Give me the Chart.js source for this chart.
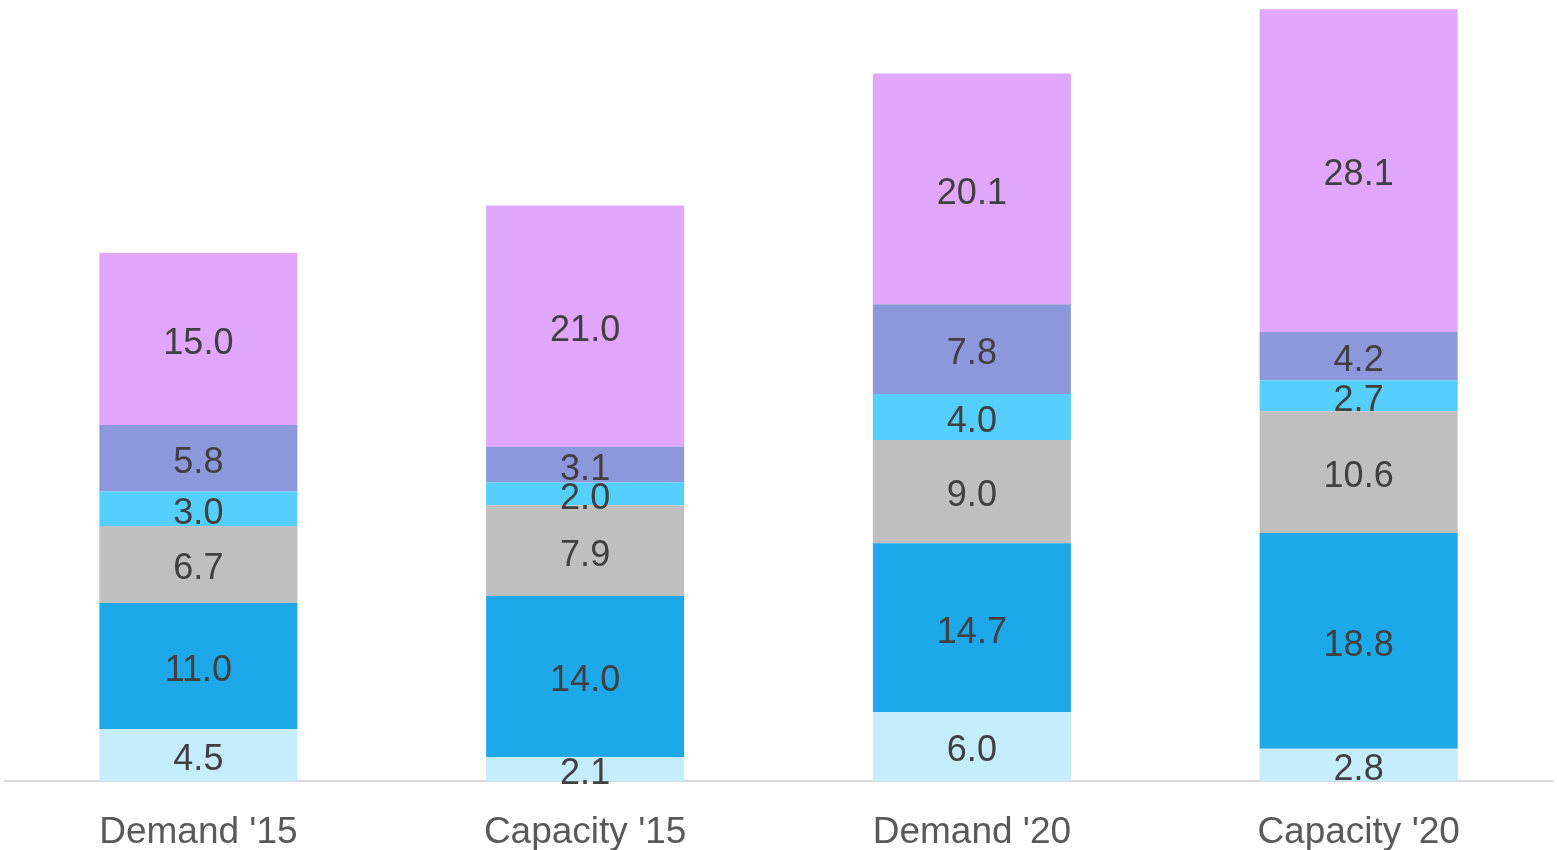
<!DOCTYPE html>
<html>
<head>
<meta charset="utf-8">
<script src="https://cdn.jsdelivr.net/npm/chart.js@4"></script>
<style>
  html, body { margin:0; padding:0; background:#fff; }
  #wrap { width:1557px; height:850px; }
</style>
</head>
<body>
<div id="wrap"><canvas id="chart"></canvas></div>
<script>
/* Stacked demand vs capacity bars, labels inside each segment */
const CATEGORIES = ["Demand '15", "Capacity '15", "Demand '20", "Capacity '20"];
const SEG1 = [4.5, 2.1, 6.0, 2.8];
const SEG2 = [11.0, 14.0, 14.7, 18.8];
const SEG3 = [6.7, 7.9, 9.0, 10.6];
const SEG4 = [3.0, 2.0, 4.0, 2.7];
const SEG5 = [5.8, 3.1, 7.8, 4.2];
const SEG6 = [15.0, 21.0, 20.1, 28.1];
const COLORS = ['#c5edfd', '#1da9e9', '#bfbfbf', '#55cffd', '#8d98dc', '#e1a6fd'];
const FONT = "'Helvetica Neue', Helvetica, 'Liberation Sans', Arial, sans-serif";

// draw the value in the middle of each segment
const segLabels = {
  id: 'segLabels',
  afterDatasetsDraw(chart){
    const ctx = chart.ctx;
    ctx.save();
    ctx.font = '36px ' + FONT;
    ctx.fillStyle = '#404040';
    ctx.textAlign = 'center';
    ctx.textBaseline = 'middle';
    chart.data.datasets.forEach((ds, i) => {
      chart.getDatasetMeta(i).data.forEach((bar, j) => {
        const v = ds.data[j];
        const y = (bar.y + bar.base) / 2 + 5;
        ctx.fillText(v.toFixed(1), bar.x, y);
      });
    });
    ctx.restore();
  }
};

const series = [SEG1, SEG2, SEG3, SEG4, SEG5, SEG6];
new Chart(document.getElementById('chart'), {
  type: 'bar',
  data: {
    labels: CATEGORIES,
    datasets: series.map((d, i) => ({
      label: 'Series ' + (i + 1),
      data: d,
      backgroundColor: COLORS[i],
      borderWidth: 0,
      barPercentage: 0.512,
      categoryPercentage: 1
    }))
  },
  options: {
    responsive: true,
    maintainAspectRatio: false,
    animation: false,
    layout: { padding: { left: 5, right: 5, top: 0, bottom: 0 } },
    plugins: { legend: { display: false }, tooltip: { enabled: false } },
    scales: {
      x: {
        stacked: true,
        grid: { display: false, drawTicks: false },
        border: { display: true, color: '#d9d9d9', width: 2 },
        ticks: { color: '#595959', padding: 30, font: { size: 37, family: FONT } },
        afterFit(scale){ scale.height = 69; }
      },
      y: {
        stacked: true,
        display: false,
        min: 0,
        max: 68
      }
    }
  },
  plugins: [segLabels]
});
</script>
</body>
</html>
